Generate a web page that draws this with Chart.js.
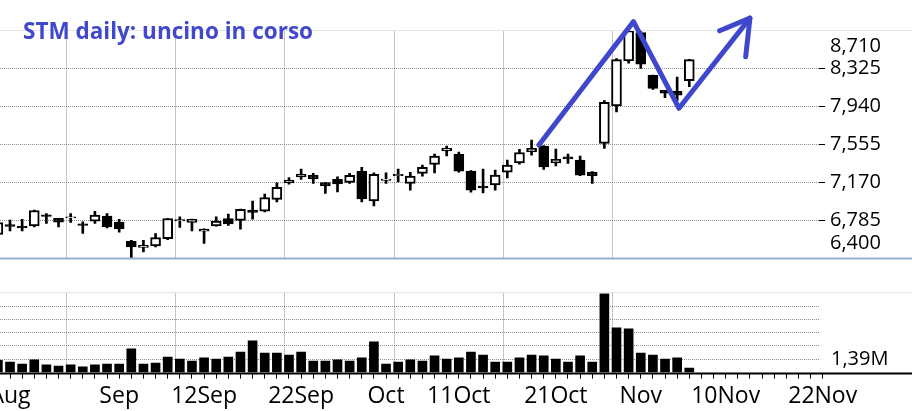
<!DOCTYPE html>
<html>
<head>
<meta charset="utf-8">
<script src="https://cdn.jsdelivr.net/npm/chart.js@4.4.1/dist/chart.umd.min.js"></script>
<style>
  html, body { margin: 0; padding: 0; background: #fff; }
  #wrap { position: relative; width: 912px; height: 411px; overflow: hidden; }
  .panel { position: absolute; left: 0; width: 912px; }
  #pricePanel { top: 0; height: 262px; }
  #volPanel { top: 262px; height: 149px; }
</style>
</head>
<body>
<div id="wrap">
  <div class="panel" id="pricePanel"><canvas id="priceChart"></canvas></div>
  <div class="panel" id="volPanel"><canvas id="volChart"></canvas></div>
</div>
<script>
// daily candles, one entry per trading day (index 0 = partly hidden first day)
const opens = [6.643, 6.744, 6.727, 6.730, 6.842, 6.808, 6.812, 6.750, 6.778, 6.829,
  6.768, 6.575, 6.511, 6.527, 6.602, 6.780, 6.765, 6.676, 6.730, 6.805,
  6.785, 6.890, 6.879, 6.998, 7.166, 7.227, 7.242, 7.170, 7.201, 7.170,
  7.282, 6.984, 7.192, 7.240, 7.160, 7.262, 7.353, 7.491, 7.458, 7.285,
  7.133, 7.146, 7.275, 7.369, 7.481, 7.539, 7.369, 7.430, 7.397, 7.275,
  7.566, 7.945, 8.401, 8.689, 8.255, 8.103, 8.093, 8.201]
const highs = [6.775, 6.788, 6.798, 6.890, 6.856, 6.808, 6.856, 6.771, 6.879, 6.856,
  6.798, 6.585, 6.585, 6.653, 6.808, 6.822, 6.800, 6.700, 6.822, 6.849,
  6.900, 6.981, 7.052, 7.166, 7.221, 7.305, 7.262, 7.170, 7.227, 7.262,
  7.323, 7.268, 7.268, 7.305, 7.272, 7.346, 7.458, 7.539, 7.478, 7.290,
  7.305, 7.295, 7.397, 7.505, 7.600, 7.545, 7.509, 7.458, 7.437, 7.280,
  7.999, 8.425, 8.716, 8.709, 8.258, 8.105, 8.238, 8.418]
const lows = [6.630, 6.679, 6.679, 6.720, 6.755, 6.720, 6.765, 6.653, 6.755, 6.710,
  6.666, 6.399, 6.466, 6.517, 6.592, 6.714, 6.679, 6.552, 6.728, 6.734,
  6.697, 6.798, 6.872, 6.974, 7.153, 7.200, 7.160, 7.059, 7.075, 7.160,
  6.974, 6.933, 7.160, 7.177, 7.092, 7.234, 7.268, 7.440, 7.275, 7.072,
  7.065, 7.092, 7.217, 7.356, 7.448, 7.302, 7.339, 7.363, 7.240, 7.160,
  7.516, 7.884, 8.378, 8.327, 8.113, 8.029, 7.999, 8.140]
const closes = [6.765, 6.724, 6.710, 6.886, 6.826, 6.768, 6.822, 6.734, 6.839, 6.720,
  6.700, 6.517, 6.534, 6.613, 6.805, 6.795, 6.798, 6.697, 6.778, 6.750,
  6.897, 6.866, 7.018, 7.120, 7.194, 7.255, 7.207, 7.136, 7.156, 7.242,
  7.004, 7.252, 7.205, 7.252, 7.234, 7.323, 7.437, 7.515, 7.285, 7.092,
  7.116, 7.245, 7.346, 7.474, 7.515, 7.329, 7.404, 7.410, 7.245, 7.238,
  7.982, 8.415, 8.709, 8.368, 8.123, 8.076, 8.055, 8.415]
// volume in millions
const volumes = [1.29, 1.11, 0.90, 1.32, 0.80, 0.69, 0.80, 0.59, 0.80, 0.90,
  0.90, 2.47, 0.90, 1.00, 1.63, 1.42, 1.21, 1.53, 1.42, 1.63,
  2.15, 3.31, 2.05, 2.05, 1.84, 2.15, 1.21, 1.21, 1.32, 1.21,
  1.53, 3.20, 0.90, 1.11, 1.32, 1.21, 1.74, 1.42, 1.53, 2.15,
  1.84, 1.11, 1.11, 1.53, 1.84, 1.74, 1.42, 1.11, 1.74, 1.11,
  8.22, 4.67, 4.56, 2.05, 1.84, 1.42, 1.53, 0.48]

const labelDays = [1, 10, 17, 25, 32, 38, 46, 53, 60, 68]
const labelTexts = ['Aug', 'Sep', '12Sep', '22Sep', 'Oct', '11Oct', '21Oct', 'Nov', '10Nov', '22Nov']
const lastAxisDay = 68
const gridDays = [5.67, 14.67, 23.67, 32.67, 41.67, 50.67]
const priceTicks = [6.400, 6.785, 7.170, 7.555, 7.940, 8.325, 8.710]
const volumeTicks = [0, 1.39, 2.78, 4.17, 5.56, 6.95, 8.34]
const volumeLabelTick = 1.39

// hand drawn hook: [day, price]
const arrowLine = [[44.6, 7.550], [52.4, 8.800], [56.15, 7.922], [62.0, 8.835]]
const arrowHead = [[59.5, 8.708], [62.0, 8.835], [61.65, 8.445]]
const chartTitle = 'STM daily: uncino in corso'

// layout
const dayPx = 12.13
const xMin = 2.13 / dayPx
const xMax = xMin + 819 / dayPx
const axisFont = { family: '"Open Sans", sans-serif', size: 20 }
const dateFont = { family: '"Open Sans", sans-serif', size: 23 }
const gridGrey = '#8c8c8c'
const clear = 'rgba(0,0,0,0)'
const hookBlue = '#3f48cc'

const fmtPrice = v => v.toFixed(3).replace('.', ',')
const idx = opens.map((_, i) => i)
const bodies = idx.map(i => ({ x: i, y: [opens[i], closes[i]] }))
const wicks = idx.map(i => ({ x: i, y: [lows[i], highs[i]] }))
const bodyColors = idx.map(i => closes[i] >= opens[i] ? '#ffffff' : '#000000')
const volBars = idx.map(i => ({ x: i, y: volumes[i] }))

const tickVal = c => (c.tick ? c.tick.value : NaN)
const fixWidth = w => s => {
  s.width = w
  s.paddingTop = 0
  s.paddingBottom = 0
}

const priceDeco = {
  id: 'priceDeco',
  afterDraw(chart) {
    const { ctx, chartArea, width } = chart
    const { x, y } = chart.scales
    ctx.save()
    ctx.strokeStyle = '#e6e6e6'
    ctx.lineWidth = 1
    ctx.beginPath()
    ctx.moveTo(0, chartArea.top)
    ctx.lineTo(width, chartArea.top)
    ctx.stroke()

    ctx.strokeStyle = '#97afcd'
    ctx.lineWidth = 2
    ctx.beginPath()
    ctx.moveTo(0, chartArea.bottom)
    ctx.lineTo(width, chartArea.bottom)
    ctx.stroke()

    // first and last price labels sit inside the panel
    ctx.font = `${axisFont.size}px ${axisFont.family}`
    ctx.fillStyle = '#000'
    ctx.textAlign = 'left'
    ctx.textBaseline = 'middle'
    const top = priceTicks[priceTicks.length - 1]
    const bottom = priceTicks[0]
    ctx.fillText(fmtPrice(top), chartArea.right + 11, y.getPixelForValue(top) + 16)
    ctx.fillText(fmtPrice(bottom), chartArea.right + 11, y.getPixelForValue(bottom) - 15)

    ctx.strokeStyle = hookBlue
    ctx.lineWidth = 5
    ctx.lineCap = 'round'
    ctx.lineJoin = 'round'
    for (const path of [arrowLine, arrowHead]) {
      ctx.beginPath()
      path.forEach(([d, p], k) => {
        const px = x.getPixelForValue(d)
        const py = y.getPixelForValue(p)
        if (k === 0) ctx.moveTo(px, py)
        else ctx.lineTo(px, py)
      })
      ctx.stroke()
    }

    ctx.font = 'bold 22.5px "Open Sans", sans-serif'
    ctx.fillStyle = '#4148cc'
    ctx.textBaseline = 'alphabetic'
    ctx.fillText(chartTitle, 23, 39.3)
    ctx.restore()
  }
}

const volDeco = {
  id: 'volDeco',
  afterDraw(chart) {
    const { ctx, chartArea, width } = chart
    ctx.save()
    ctx.strokeStyle = '#e6e6e6'
    ctx.lineWidth = 1
    ctx.beginPath()
    ctx.moveTo(0, chartArea.top)
    ctx.lineTo(width, chartArea.top)
    ctx.stroke()
    ctx.strokeStyle = '#000'
    ctx.lineWidth = 2
    ctx.beginPath()
    ctx.moveTo(0, chartArea.bottom + 1)
    ctx.lineTo(width, chartArea.bottom + 1)
    ctx.stroke()
    ctx.restore()
  }
}

new Chart(document.getElementById('priceChart'), {
  type: 'bar',
  data: {
    datasets: [
      { data: wicks, backgroundColor: '#000', borderWidth: 0, barThickness: 2, grouped: false, order: 2 },
      { data: bodies, backgroundColor: bodyColors, borderColor: '#000', borderWidth: 2,
        borderSkipped: false, barThickness: 10, grouped: false, order: 1 }
    ]
  },
  options: {
    animation: false,
    responsive: true,
    maintainAspectRatio: false,
    layout: { padding: { top: 30.5, bottom: 3.5, left: 0, right: 0 } },
    plugins: { legend: { display: false }, tooltip: { enabled: false } },
    scales: {
      x: {
        type: 'linear', min: xMin, max: xMax, offset: false,
        afterBuildTicks: s => { s.ticks = gridDays.map(v => ({ value: v })) },
        ticks: { display: false, autoSkip: false },
        grid: { color: gridGrey, drawTicks: false, offset: false },
        border: { display: false, dash: [1, 1] }
      },
      y: {
        position: 'right', min: priceTicks[0], max: priceTicks[priceTicks.length - 1],
        afterBuildTicks: s => { s.ticks = priceTicks.map(v => ({ value: v })) },
        afterFit: fixWidth(93),
        ticks: {
          font: axisFont, color: '#000', padding: 5, autoSkip: false,
          callback: v => (v === priceTicks[0] || v === priceTicks[priceTicks.length - 1]) ? '' : fmtPrice(v)
        },
        grid: {
          color: c => (tickVal(c) === priceTicks[0] || tickVal(c) === priceTicks[priceTicks.length - 1]) ? clear : gridGrey,
          tickColor: '#000', tickLength: 6, tickBorderDash: []
        },
        border: { display: false, dash: [1, 1] }
      }
    }
  },
  plugins: [priceDeco]
})

const axisDays = Array.from({ length: lastAxisDay }, (_, k) => k + 1)
const isGridDay = v => gridDays.includes(v)

new Chart(document.getElementById('volChart'), {
  type: 'bar',
  data: {
    datasets: [{ data: volBars, backgroundColor: '#000', borderWidth: 0, barThickness: 9 }]
  },
  options: {
    animation: false,
    responsive: true,
    maintainAspectRatio: false,
    layout: { padding: { top: 30.7, bottom: 0, left: 0, right: 0 } },
    plugins: { legend: { display: false }, tooltip: { enabled: false } },
    scales: {
      x: {
        type: 'linear', min: xMin, max: xMax, offset: false,
        afterBuildTicks: s => {
          s.ticks = axisDays.concat(gridDays).sort((a, b) => a - b).map(v => ({ value: v }))
        },
        afterFit: s => {
          s.height = 38.4
          s.paddingLeft = 0
          s.paddingRight = 0
        },
        ticks: {
          autoSkip: false, maxRotation: 0, minRotation: 0, font: dateFont, color: '#000', padding: 4,
          callback: v => {
            const k = labelDays.indexOf(v)
            return k >= 0 ? labelTexts[k] : ''
          }
        },
        grid: {
          offset: false,
          color: c => isGridDay(tickVal(c)) ? gridGrey : clear,
          tickColor: c => isGridDay(tickVal(c)) ? clear : '#000',
          tickLength: 6, tickBorderDash: []
        },
        border: { display: false, dash: [1, 1] }
      },
      y: {
        position: 'right', min: 0, max: volumeTicks[volumeTicks.length - 1],
        afterBuildTicks: s => { s.ticks = volumeTicks.map(v => ({ value: v })) },
        afterFit: fixWidth(93),
        ticks: {
          font: axisFont, color: '#000', padding: 12, autoSkip: false,
          callback: v => v === volumeLabelTick ? fmtPrice(v).slice(0, 4) + 'M' : ''
        },
        grid: {
          drawTicks: false,
          color: c => (tickVal(c) > 0 && tickVal(c) < volumeTicks[volumeTicks.length - 1]) ? gridGrey : clear
        },
        border: { display: false, dash: [1, 1] }
      }
    }
  },
  plugins: [volDeco]
})
</script>
</body>
</html>
